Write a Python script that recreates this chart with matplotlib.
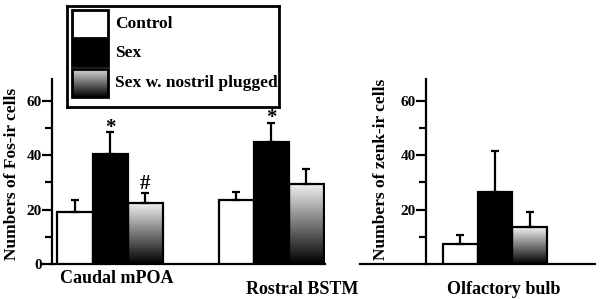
import numpy as np
import matplotlib.pyplot as plt
from matplotlib.patches import Rectangle

plt.rcParams['font.family'] = ['Liberation Serif', 'DejaVu Serif']
plt.rcParams['font.weight'] = 'bold'
plt.rcParams['axes.labelweight'] = 'bold'

# ---- data ----
series = ['Control', 'Sex', 'Sex w. nostril plugged']

fos_regions = ['Caudal mPOA', 'Rostral BSTM']
fos_control = [19, 23.5]
fos_control_err = [4.5, 3]
fos_sex = [40.5, 45]
fos_sex_err = [8, 7]
fos_plug = [22.5, 29.5]
fos_plug_err = [3.5, 5.5]
fos_marks = [['', '*', '#'], ['', '*', '']]

zenk_regions = ['Olfactory bulb']
zenk_control = [7.5]
zenk_control_err = [3]
zenk_sex = [26.5]
zenk_sex_err = [15]
zenk_plug = [13.5]
zenk_plug_err = [5.5]

W, H = 602, 299
fig = plt.figure(figsize=(W / 100, H / 100), dpi=100)

LW = 1.6
grad = np.linspace(0.95, 0.0, 256).reshape(-1, 1)


def gradient_fill(ax, rects):
    for r in rects:
        x0, y0 = r.get_x(), r.get_y()
        w, h = r.get_width(), r.get_height()
        im = ax.imshow(grad, cmap='gray', vmin=0, vmax=1, aspect='auto',
                       extent=[x0, x0 + w, y0, y0 + h], zorder=2)
        im.set_clip_path(r)
        r.set_facecolor('none')
        r.set_zorder(3)


def draw_groups(ax, starts, ctrl, ctrl_e, sex, sex_e, plug, plug_e):
    starts = np.array(starts)
    ekw = dict(elinewidth=LW, capthick=LW, ecolor='black')
    ax.bar(starts, ctrl, width=1, color='white', edgecolor='black', linewidth=LW,
           yerr=[np.zeros(len(ctrl)), ctrl_e], capsize=3, error_kw=ekw, zorder=3)
    ax.bar(starts + 1, sex, width=1, color='black', edgecolor='black', linewidth=LW,
           yerr=[np.zeros(len(sex)), sex_e], capsize=3, error_kw=ekw, zorder=3)
    pb = ax.bar(starts + 2, plug, width=1, color='white', edgecolor='black', linewidth=LW,
                yerr=[np.zeros(len(plug)), plug_e], capsize=3, error_kw=ekw, zorder=3)
    gradient_fill(ax, pb)


def style_axis(ax):
    for s in ['top', 'right']:
        ax.spines[s].set_visible(False)
    for s in ['left', 'bottom']:
        ax.spines[s].set_linewidth(LW)
    ax.set_xticks([])
    ax.set_ylim(0, 68)
    ax.set_yticks([10, 30, 50], minor=True)
    ax.tick_params(axis='y', which='major', direction='out', length=7, width=LW,
                   labelsize=11, pad=0.5)
    ax.tick_params(axis='y', which='minor', direction='out', length=5, width=LW)


# ---- left panel: Fos ----
axL = fig.add_axes([52 / W, 1 - 264 / H, 273 / W, 185 / H])
starts = [0, 4.6]
draw_groups(axL, starts, fos_control, fos_control_err, fos_sex, fos_sex_err,
            fos_plug, fos_plug_err)
style_axis(axL)
axL.set_xlim(-0.657, 7.14)
axL.set_ylim(0, 68)
axL.set_yticks([0, 20, 40, 60])
axL.set_ylabel('Numbers of Fos-ir cells', fontsize=12.5)
axL.yaxis.set_label_coords(-0.117, 0.486)

vals = [fos_control, fos_sex, fos_plug]
errs = [fos_control_err, fos_sex_err, fos_plug_err]
for g, st in enumerate(starts):
    for k in range(3):
        m = fos_marks[g][k]
        if m:
            top = vals[k][g] + errs[k][g]
            off = -0.3 if m == '*' else 1.4
            axL.text(st + k, top + off, m, ha='center', va='baseline',
                     fontsize=15)

axL.text(1.2, -0.03, fos_regions[0], transform=axL.get_xaxis_transform(),
         ha='center', va='top', fontsize=13)
axL.text(6.5, -0.09, fos_regions[1], transform=axL.get_xaxis_transform(),
         ha='center', va='top', fontsize=13)

# ---- right panel: zenk ----
axR = fig.add_axes([360 / W, 1 - 264 / H, 235 / W, 185 / H])
draw_groups(axR, [0], zenk_control, zenk_control_err, zenk_sex, zenk_sex_err,
            zenk_plug, zenk_plug_err)
style_axis(axR)
axR.set_xlim(-2.86, 3.86)
axR.set_ylim(0, 68)
axR.set_yticks([20, 40, 60])
axR.spines['left'].set_position(('axes', 66 / 235))
axR.set_ylabel('Numbers of zenk-ir cells', fontsize=12.5)
axR.yaxis.set_label_coords(0.123, 0.51)
axR.text(1.26, -0.09, zenk_regions[0], transform=axR.get_xaxis_transform(),
         ha='center', va='top', fontsize=13)

# ---- legend box ----
lx0, ly0, lw, lh = 67, 6, 212, 101
axLeg = fig.add_axes([lx0 / W, 1 - (ly0 + lh) / H, lw / W, lh / H])
axLeg.set_xticks([])
axLeg.set_yticks([])
for s in axLeg.spines.values():
    s.set_linewidth(2)
rows = [(4, 28), (34, 26), (63, 28)]
fills = ['white', 'black', 'grad']
for name, (ry, rh), f in zip(series, rows, fills):
    if f == 'grad':
        rect = Rectangle((5, ry), 36, rh, facecolor='none', edgecolor='black',
                         linewidth=2, zorder=3)
        axLeg.add_patch(rect)
        im = axLeg.imshow(np.linspace(0.85, 0.0, 256).reshape(-1, 1), cmap='gray',
                          vmin=0, vmax=1, aspect='auto',
                          extent=[5, 41, ry + rh, ry], zorder=2)
        im.set_clip_path(rect)
    else:
        axLeg.add_patch(Rectangle((5, ry), 36, rh, facecolor=f, edgecolor='black',
                                  linewidth=2, zorder=3))
    axLeg.text(48, ry + rh / 2, name, ha='left', va='center', fontsize=12.5)
axLeg.set_xlim(0, lw)
axLeg.set_ylim(lh, 0)

fig.savefig('out.png', dpi=100)
